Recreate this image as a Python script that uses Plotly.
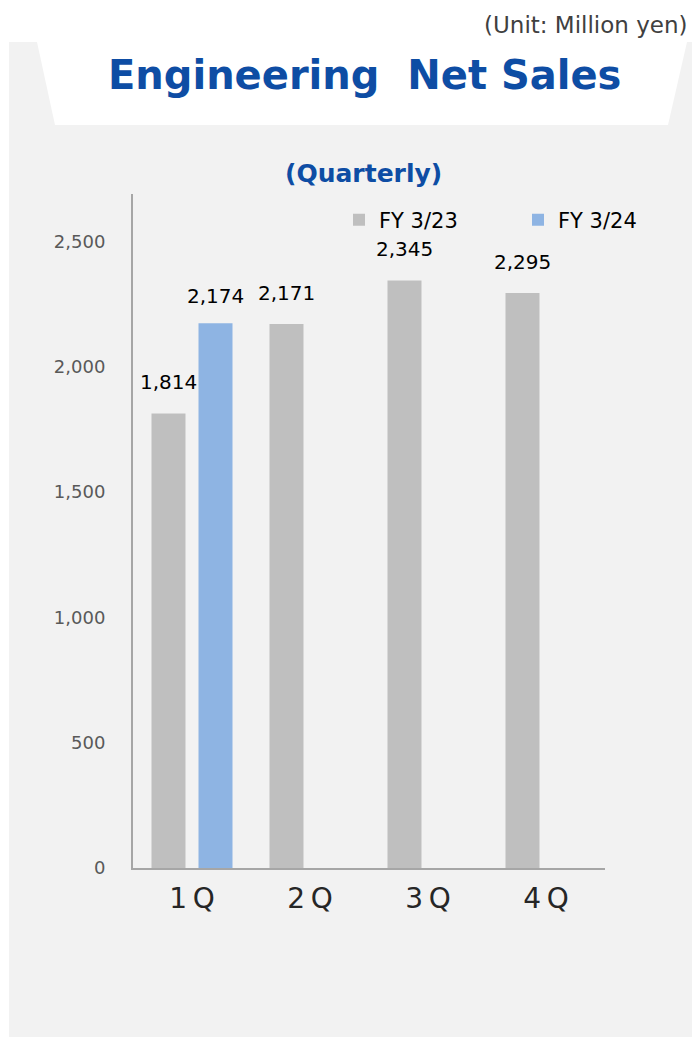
import plotly.graph_objects as go

# ---- data ----
categories = ["1Q", "2Q", "3Q", "4Q"]
tick_labels = ["1\u2009Q", "2\u2009Q", "3\u2009Q", "4\u2009Q"]
fy23_values = [1814, 2171, 2345, 2295]
fy24_values = [2174, None, None, None]
series_names = ["FY 3/23", "FY 3/24"]
y_ticks = [0, 500, 1000, 1500, 2000, 2500]

title_text = "Engineering  Net Sales"
subtitle_text = "(Quarterly)"
unit_text = "(Unit: Million yen)"

# ---- layout geometry (page pixel coords; the page body has an 8px margin) ----
PAGE_W, PAGE_H = 700, 1037
OFF = 8
W, H = PAGE_W - OFF, PAGE_H - OFF
PLOT_L, PLOT_R, PLOT_T, PLOT_B = 133, 605, 194, 868
ML = PLOT_L - OFF
MT = PLOT_T - OFF
MR = W - (PLOT_R - OFF)
MB = H - (PLOT_B - OFF)
PW = PLOT_R - PLOT_L
PH = PLOT_B - PLOT_T


def xp(px):
    return (px - PLOT_L) / PW


def yp(py):
    return (PLOT_B - py) / PH


def xc(px):
    return (px - OFF) / W


def yc(py):
    return (H - (py - OFF)) / H


FONT = "DejaVu Sans, Verdana, sans-serif"
BLUE_TXT = "#0E4DA4"
GRAY_BAR = "#BFBFBF"
BLUE_BAR = "#8EB4E3"

fig = go.Figure()
fig.add_trace(go.Bar(name=series_names[0], x=categories, y=fy23_values,
                     marker=dict(color=GRAY_BAR, line=dict(width=0))))
fig.add_trace(go.Bar(name=series_names[1], x=categories, y=fy24_values,
                     marker=dict(color=BLUE_BAR, line=dict(width=0))))

annotations = []
# value labels
for vals, shift, ysh in ((fy23_values, -23.5, 31), (fy24_values, 23.5, 27)):
    for c, v in zip(categories, vals):
        if v is None:
            continue
        annotations.append(dict(x=c, y=v, xref="x", yref="y", text=f"{v:,}",
                                showarrow=False, xshift=shift, yshift=ysh,
                                yanchor="middle",
                                font=dict(family=FONT, size=20, color="#000000")))

annotations += [
    dict(x=xp(364), y=yp(75), xref="paper", yref="paper", text=f"<b>{title_text}</b>",
         showarrow=False, xanchor="center", yanchor="middle",
         font=dict(family=FONT, size=40, color=BLUE_TXT)),
    dict(x=xp(363), y=yp(173), xref="paper", yref="paper", text=f"<b>{subtitle_text}</b>",
         showarrow=False, xanchor="center", yanchor="middle",
         font=dict(family=FONT, size=25, color=BLUE_TXT)),
    dict(x=xp(690), y=yp(25), xref="paper", yref="paper", text=unit_text,
         showarrow=False, xanchor="right", yanchor="middle",
         font=dict(family=FONT, size=23, color="#404040")),
]

shapes = [
    dict(type="rect", xref="paper", yref="paper", x0=xp(9), x1=xp(PAGE_W + 20),
         y0=yp(PAGE_H + 20), y1=yp(42), fillcolor="#F2F2F2", line=dict(width=0), layer="below"),
    dict(type="path", xref="paper", yref="paper",
         path=f"M {xp(37)} {yp(42)} L {xp(687)} {yp(42)} L {xp(668)} {yp(125)} L {xp(55)} {yp(125)} Z",
         fillcolor="#FFFFFF", line=dict(width=0), layer="below"),
]

fig.update_layout(
    width=W, height=H,
    margin=dict(l=ML, r=MR, t=MT, b=MB, pad=0, autoexpand=False),
    paper_bgcolor="#FFFFFF",
    plot_bgcolor="#F2F2F2",
    barmode="group",
    bargap=0.203,
    bargroupgap=0.277,
    font=dict(family=FONT),
    showlegend=True,
    legend=dict(orientation="h", xref="container", yref="container",
                x=xc(339), y=yc(220), xanchor="left", yanchor="middle",
                bgcolor="rgba(0,0,0,0)", font=dict(family=FONT, size=21, color="#000000"),
                entrywidth=134, entrywidthmode="pixels", traceorder="normal"),
    annotations=annotations,
    shapes=shapes,
    xaxis=dict(categoryorder="array", categoryarray=categories,
               tickvals=categories, ticktext=tick_labels,
               showline=True, linecolor="#A6A6A6", linewidth=2,
               showgrid=False, zeroline=False, ticks="",
               ticklabelstandoff=4,
               tickfont=dict(family=FONT, size=28, color="#262626")),
    yaxis=dict(range=[0, 2690], tickvals=y_ticks, tickformat=",",
               showline=True, linecolor="#A6A6A6", linewidth=2,
               showgrid=False, zeroline=False, ticks="",
               ticklabelstandoff=22,
               tickfont=dict(family=FONT, size=18, color="#595959")),
)

fig.write_html("out.html")
